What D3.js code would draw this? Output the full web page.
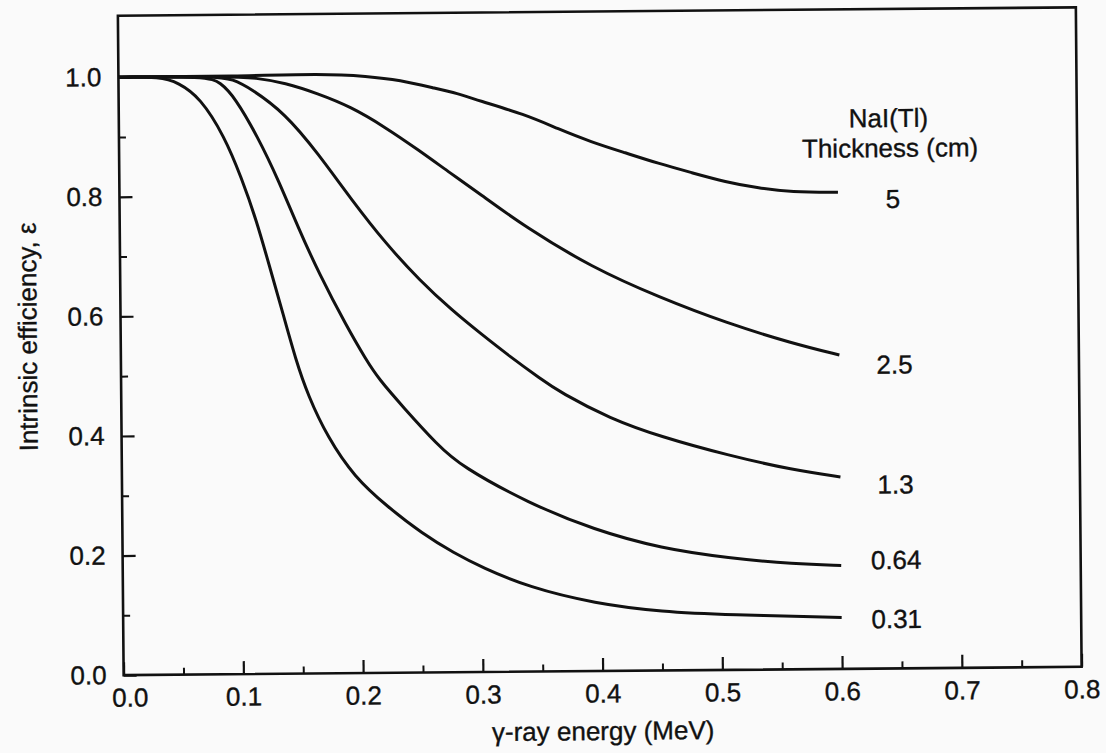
<!DOCTYPE html>
<html>
<head>
<meta charset="utf-8">
<script src="https://cdn.jsdelivr.net/npm/d3@7"></script>
<style>
  html, body { margin: 0; padding: 0; background: #fafafa; }
  svg { display: block; font-family: "Liberation Sans", Arial, Helvetica, sans-serif; }
</style>
</head>
<body>
<svg id="chart" width="1106" height="753"></svg>
<script>
// ---------------- data ----------------
const thicknessLabels = ["5", "2.5", "1.3", "0.64", "0.31"];

const energy5 = [0, 0.10, 0.17, 0.208, 0.235, 0.264, 0.283, 0.300, 0.339, 0.367, 0.394, 0.423, 0.450, 0.478, 0.506, 0.534, 0.561, 0.60];
const eff5    = [1, 1, 1.003, 0.998, 0.991, 0.977, 0.968, 0.956, 0.932, 0.907, 0.885, 0.866, 0.848, 0.832, 0.816, 0.805, 0.798, 0.797];

const energy25 = [0, 0.091, 0.115, 0.139, 0.166, 0.194, 0.222, 0.250, 0.277, 0.300, 0.339, 0.394, 0.450, 0.506, 0.561, 0.60];
const eff25    = [1, 1, 0.997, 0.988, 0.970, 0.947, 0.913, 0.874, 0.834, 0.801, 0.743, 0.675, 0.624, 0.580, 0.545, 0.525];

const energy13 = [0, 0.083, 0.095, 0.110, 0.139, 0.166, 0.194, 0.222, 0.250, 0.277, 0.300, 0.325, 0.350, 0.367, 0.408, 0.450, 0.506, 0.561, 0.60];
const eff13    = [1, 1, 0.995, 0.980, 0.937, 0.870, 0.791, 0.718, 0.656, 0.605, 0.567, 0.527, 0.490, 0.466, 0.422, 0.391, 0.359, 0.333, 0.321];

const energy064 = [0, 0.074, 0.085, 0.097, 0.116, 0.133, 0.149, 0.166, 0.189, 0.205, 0.215, 0.235, 0.264, 0.283, 0.339, 0.394, 0.450, 0.506, 0.561, 0.60];
const eff064    = [1, 1, 0.99, 0.965, 0.898, 0.825, 0.746, 0.669, 0.579, 0.523, 0.492, 0.445, 0.380, 0.345, 0.282, 0.236, 0.204, 0.187, 0.176, 0.173];

const energy031 = [0, 0.035, 0.05, 0.068, 0.088, 0.102, 0.114, 0.125, 0.136, 0.146, 0.156, 0.172, 0.194, 0.222, 0.250, 0.277, 0.300, 0.339, 0.394, 0.450, 0.506, 0.60];
const eff031    = [1, 1, 0.99, 0.965, 0.90, 0.83, 0.76, 0.68, 0.60, 0.525, 0.465, 0.395, 0.328, 0.277, 0.233, 0.199, 0.175, 0.141, 0.113, 0.098, 0.092, 0.086];

const xMajorTicks = [0, 0.1, 0.2, 0.3, 0.4, 0.5, 0.6, 0.7, 0.8];
const xMinorTicks = [0.05, 0.15, 0.25, 0.35, 0.45, 0.55, 0.65, 0.75];
const yMajorTicks = [0, 0.2, 0.4, 0.6, 0.8, 1.0];
const yMinorTicks = [0.1, 0.3, 0.5, 0.7, 0.9];

const xTitle = "γ-ray energy (MeV)";
const yTitle = "Intrinsic efficiency, ε";
const legendTitle = ["NaI(Tl)", "Thickness (cm)"];

// ---------------- layout ----------------
const plotLeft = 121, plotRight = 1079, plotTop = 11.5, plotBottom = 671, yOne = 73;
const labelDy = [16, 19, 17, 4, 11];
const ink = "#111";
const fontPx = 26;

const series = [
  { label: thicknessLabels[0], e: energy5,   v: eff5 },
  { label: thicknessLabels[1], e: energy25,  v: eff25 },
  { label: thicknessLabels[2], e: energy13,  v: eff13 },
  { label: thicknessLabels[3], e: energy064, v: eff064 },
  { label: thicknessLabels[4], e: energy031, v: eff031 }
];

const svg = d3.select("#chart");
svg.append("rect").attr("width", 1106).attr("height", 753).attr("fill", "#fafafa");

// slight rotation to mimic the scanned page
const g = svg.append("g").attr("transform", "rotate(-0.5,600,370)");

const x = d3.scaleLinear().domain([0, 0.8]).range([plotLeft, plotRight]);
const y = d3.scaleLinear().domain([0, 1]).range([plotBottom, yOne]);

function styleText(sel) {
  sel.attr("fill", ink).attr("font-size", fontPx)
     .attr("font-family", "'Liberation Sans', Arial, sans-serif")
     .attr("stroke", ink).attr("stroke-width", 0.35);
}

// minor ticks
g.append("g").attr("transform", `translate(0,${plotBottom})`)
  .call(d3.axisBottom(x).tickValues(xMinorTicks).tickSize(-7).tickFormat(""))
  .call(s => s.select(".domain").remove())
  .call(s => s.selectAll("line").attr("stroke", ink).attr("stroke-width", 2));
g.append("g").attr("transform", `translate(${plotLeft},0)`)
  .call(d3.axisLeft(y).tickValues(yMinorTicks).tickSize(-7).tickFormat(""))
  .call(s => s.select(".domain").remove())
  .call(s => s.selectAll("line").attr("stroke", ink).attr("stroke-width", 2));

// major ticks + labels
g.append("g").attr("transform", `translate(0,${plotBottom})`)
  .call(d3.axisBottom(x).tickValues(xMajorTicks).tickSize(-13).tickPadding(13).tickFormat(d3.format(".1f")))
  .call(s => s.select(".domain").remove())
  .call(s => s.selectAll("line").attr("stroke", ink).attr("stroke-width", 2.2))
  .call(s => styleText(s.selectAll("text")))
  .call(s => s.selectAll("text").filter(d => d === 0).attr("dx", 6));
g.append("g").attr("transform", `translate(${plotLeft},0)`)
  .call(d3.axisLeft(y).tickValues(yMajorTicks).tickSize(-13).tickPadding(17).tickFormat(d3.format(".1f")))
  .call(s => s.select(".domain").remove())
  .call(s => s.selectAll("line").attr("stroke", ink).attr("stroke-width", 2.2))
  .call(s => styleText(s.selectAll("text")));

// frame
g.append("rect")
  .attr("x", plotLeft).attr("y", plotTop)
  .attr("width", plotRight - plotLeft).attr("height", plotBottom - plotTop)
  .attr("fill", "none").attr("stroke", ink).attr("stroke-width", 2.6);

// curves
const line = d3.line()
  .x(d => x(d[0])).y(d => y(d[1]))
  .curve(d3.curveBasis);

series.forEach((s, i) => {
  const pts = s.e.map((e, k) => [e, s.v[k]]);
  g.append("path")
    .attr("d", line(pts))
    .attr("fill", "none")
    .attr("stroke", ink)
    .attr("stroke-width", 3)
    .attr("stroke-linejoin", "round");
  const last = pts[pts.length - 1];
  g.append("text")
    .attr("x", x(last[0]) + 55)
    .attr("y", y(last[1]) + labelDy[i])
    .attr("text-anchor", "middle")
    .call(styleText)
    .text(s.label);
});

// legend header
const lx = x(0.6) + 51;
g.append("text").attr("x", lx).attr("y", 129.5).attr("text-anchor", "middle")
  .call(styleText).text(legendTitle[0]);
g.append("text").attr("x", lx + 1.5).attr("y", 159.5).attr("text-anchor", "middle")
  .call(styleText).text(legendTitle[1]);

// axis titles
g.append("text").attr("x", (plotLeft + plotRight) / 2).attr("y", 740)
  .attr("text-anchor", "middle").call(styleText).text(xTitle);
g.append("text").attr("transform", "translate(37,332) rotate(-90)")
  .attr("text-anchor", "middle").call(styleText).text(yTitle);
</script>
</body>
</html>
